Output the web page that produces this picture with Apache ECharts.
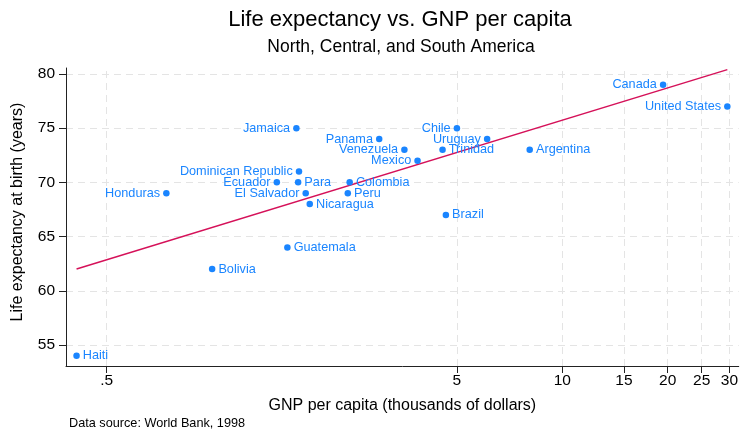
<!DOCTYPE html>
<html><head><meta charset="utf-8">
<script src="https://cdn.jsdelivr.net/npm/echarts@6/dist/echarts.min.js"></script>
<style>html,body{margin:0;padding:0;background:#fff}#c{width:741px;height:431px}</style>
</head><body><div id="c"></div>
<script>
const countries = ['Haiti','Honduras','Bolivia','Guatemala','Ecuador','Jamaica','Para','Dominican Republic','El Salvador','Nicaragua','Peru','Colombia','Panama','Venezuela','Mexico','Trinidad','Brazil','Chile','Uruguay','Argentina','Canada','United States'];
const gnppc = [0.41,0.74,1.0,1.64,1.53,1.74,1.76,1.77,1.85,1.9,2.44,2.47,3.0,3.54,3.86,4.55,4.65,5.0,6.1,8.07,19.4,29.6];
const lexp = [54,69,62,64,70,75,70,71,69,68,69,70,74,73,72,73,67,75,74,73,79,77];
const fitX = [0.41, 29.6];
const fitY = [62.0, 80.4];
const xTicks = [0.5,5,10,15,20,25,30];
const yTicks = [55,60,65,70,75,80];

const leftLabelled = ['Honduras','Ecuador','Jamaica','Dominican Republic','El Salvador','Panama','Venezuela','Mexico','Chile','Uruguay','Canada','United States'];
const BLUE = '#1a85ff', RED = '#d51159';
const FONT = 'Liberation Sans, Arial, sans-serif';

const pts = countries.map((n,i)=>({
  name:n, value:[gnppc[i], lexp[i]],
  label:{position: leftLabelled.includes(n)?'left':'right'}
}));

const chart = echarts.init(document.getElementById('c'));
chart.setOption({
  animation:false,
  textStyle:{fontFamily:FONT},
  title:[
    {text:'Life expectancy vs. GNP per capita', left:400, top:9, textAlign:'center', padding:0,
     textStyle:{fontSize:22,fontWeight:'normal',color:'#000',fontFamily:FONT}},
    {text:'North, Central, and South America', left:401, top:38, textAlign:'center', padding:0,
     textStyle:{fontSize:17.5,fontWeight:'normal',color:'#000',fontFamily:FONT}},
    {text:'Data source: World Bank, 1998', left:69, top:417, padding:0,
     textStyle:{fontSize:12.7,fontWeight:'normal',color:'#000',fontFamily:FONT}}
  ],
  grid:{left:66,right:0,top:68,bottom:65,containLabel:false},
  xAxis:{type:'log', min:0.3825, max:31.9, logBase:10,
    name:'GNP per capita (thousands of dollars)', nameLocation:'middle', nameGap:32,
    nameTextStyle:{fontSize:16,color:'#000',fontFamily:FONT},
    axisLine:{lineStyle:{color:'#222',width:1}},
    axisTick:{show:true,length:7,customValues:xTicks,lineStyle:{color:'#222'}},
    axisLabel:{customValues:xTicks,fontSize:15.5,color:'#000',margin:7,
      formatter:v=> (Math.abs(v-0.5)<1e-9?'.5':String(Math.round(v)))},
    splitLine:{show:false},minorTick:{show:false},minorSplitLine:{show:false}},
  yAxis:{type:'value', min:53.06, max:80.55,
    name:'Life expectancy at birth (years)', nameLocation:'middle', nameGap:40,
    nameTextStyle:{fontSize:16,color:'#000',fontFamily:FONT,padding:[0,0,0,10]},
    axisLine:{show:true,lineStyle:{color:'#222',width:1}},
    axisTick:{show:true,length:7,customValues:yTicks,lineStyle:{color:'#222'}},
    axisLabel:{customValues:yTicks,fontSize:15.5,color:'#000',margin:11},
    splitLine:{show:false}},
  series:[
    {type:'line', data:[], silent:true, z:0,
     markLine:{silent:true, symbol:'none', label:{show:false}, z:0,
       lineStyle:{color:'#e4e4e4',type:[7,5],width:1},
       data: xTicks.map(v=>({xAxis:v})).concat(yTicks.map(v=>({yAxis:v})))}},
    {type:'line', data:fitX.map((x,i)=>[x,fitY[i]]), symbol:'none', z:2,
     lineStyle:{color:RED,width:1.5}},
    {type:'scatter', data:pts, symbolSize:6.5, z:3,
     itemStyle:{color:BLUE,opacity:1},
     label:{show:true, formatter:'{b}', color:BLUE, fontSize:12.7, distance:3, fontFamily:FONT}}
  ]
});
</script></body></html>
